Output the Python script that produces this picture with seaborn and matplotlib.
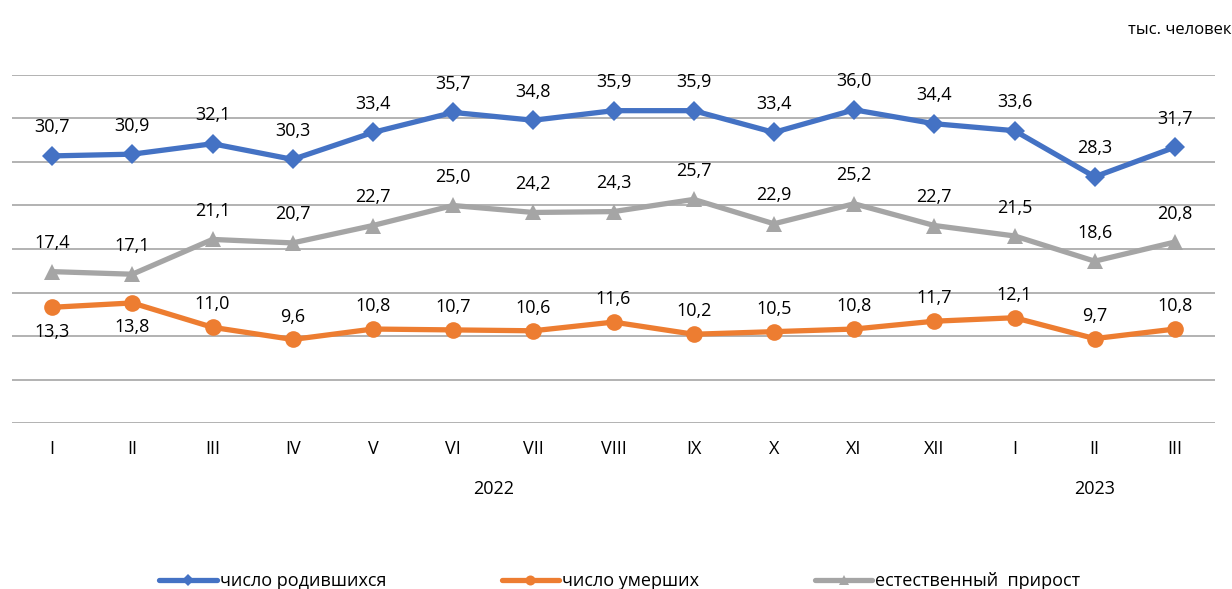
import numpy as np
import pandas as pd
import matplotlib
matplotlib.use("Agg")
import matplotlib.pyplot as plt
import seaborn as sns

# -----------------------------
# Data
# -----------------------------
months = ["I", "II", "III", "IV", "V", "VI", "VII", "VIII", "IX", "X", "XI", "XII",
          "I", "II", "III"]
births = [30.7, 30.9, 32.1, 30.3, 33.4, 35.7, 34.8, 35.9, 35.9, 33.4, 36.0, 34.4,
          33.6, 28.3, 31.7]
deaths = [13.3, 13.8, 11.0, 9.6, 10.8, 10.7, 10.6, 11.6, 10.2, 10.5, 10.8, 11.7,
          12.1, 9.7, 10.8]
natural = [17.4, 17.1, 21.1, 20.7, 22.7, 25.0, 24.2, 24.3, 25.7, 22.9, 25.2, 22.7,
           21.5, 18.6, 20.8]
years = ["2022", "2023"]
series_names = ["число родившихся", "число умерших", "естественный  прирост"]

# -----------------------------
# Style
# -----------------------------
sns.set_theme(style="white")
plt.rcParams["font.family"] = ["Open Sans", "DejaVu Sans"]
plt.rcParams["text.color"] = "black"
plt.rcParams["xtick.color"] = "black"

colors = ["#4472C4", "#ED7D31", "#A5A5A5"]
markers = ["D", "o", "^"]
msizes = [10, 12, 11]
FS = 13

fig = plt.figure(figsize=(12.32, 5.89), dpi=100)
ax = fig.add_axes([12 / 1232, 1 - 423 / 589, 1203 / 1232, 348 / 589])

x = np.arange(len(months))
df = pd.DataFrame({
    "x": np.tile(x, 3),
    "value": births + deaths + natural,
    "series": np.repeat(series_names, len(months)),
})

for name, c, m, ms in zip(series_names, colors, markers, msizes):
    sub = df[df["series"] == name]
    sns.lineplot(data=sub, x="x", y="value", ax=ax, color=c, linewidth=3.8,
                 marker=m, markersize=ms, markeredgewidth=0, label=name,
                 zorder=3)


def fmt(v):
    return f"{v:.1f}".replace(".", ",")


# data labels
for i in x:
    ax.annotate(fmt(births[i]), (i, births[i]), xytext=(0, 14),
                textcoords="offset points", ha="center", va="bottom", fontsize=FS)
    ax.annotate(fmt(natural[i]), (i, natural[i]), xytext=(0, 14),
                textcoords="offset points", ha="center", va="bottom", fontsize=FS)
    if i < 2:
        ax.annotate(fmt(deaths[i]), (i, deaths[i]), xytext=(0, -11),
                    textcoords="offset points", ha="center", va="top", fontsize=FS)
    else:
        ax.annotate(fmt(deaths[i]), (i, deaths[i]), xytext=(0, 10),
                    textcoords="offset points", ha="center", va="bottom", fontsize=FS)

ax.set_xlim(-0.5, len(months) - 0.5)
ax.set_ylim(0, 40)
ax.set_yticks(np.arange(0, 41, 5))
ax.yaxis.grid(True, color="#A6A6A6", linewidth=1.2)
ax.set_yticklabels([])
ax.tick_params(axis="y", length=0)
ax.set_xticks(x)
ax.set_xticklabels(months, fontsize=FS)
ax.tick_params(axis="x", length=0, pad=12)
ax.set_xlabel("")
ax.set_ylabel("")
for s in ax.spines.values():
    s.set_visible(False)

# year labels
ax.text(5.5, -0.19, years[0], transform=ax.get_xaxis_transform(), ha="center",
        va="center", fontsize=FS)
ax.text(13, -0.19, years[1], transform=ax.get_xaxis_transform(), ha="center",
        va="center", fontsize=FS)

fig.text(1.0, 1 - 30 / 589, "тыс. человек", ha="right", va="center", fontsize=12)

handles, labels = ax.get_legend_handles_labels()
ax.legend_.remove()
fig.legend(handles, labels, loc="lower center", bbox_to_anchor=(0.503, -0.03),
           ncol=3, frameon=False, fontsize=FS, columnspacing=6.4,
           handlelength=3.2, handletextpad=0.15, markerscale=0.6)

fig.savefig("out.png", dpi=100)
